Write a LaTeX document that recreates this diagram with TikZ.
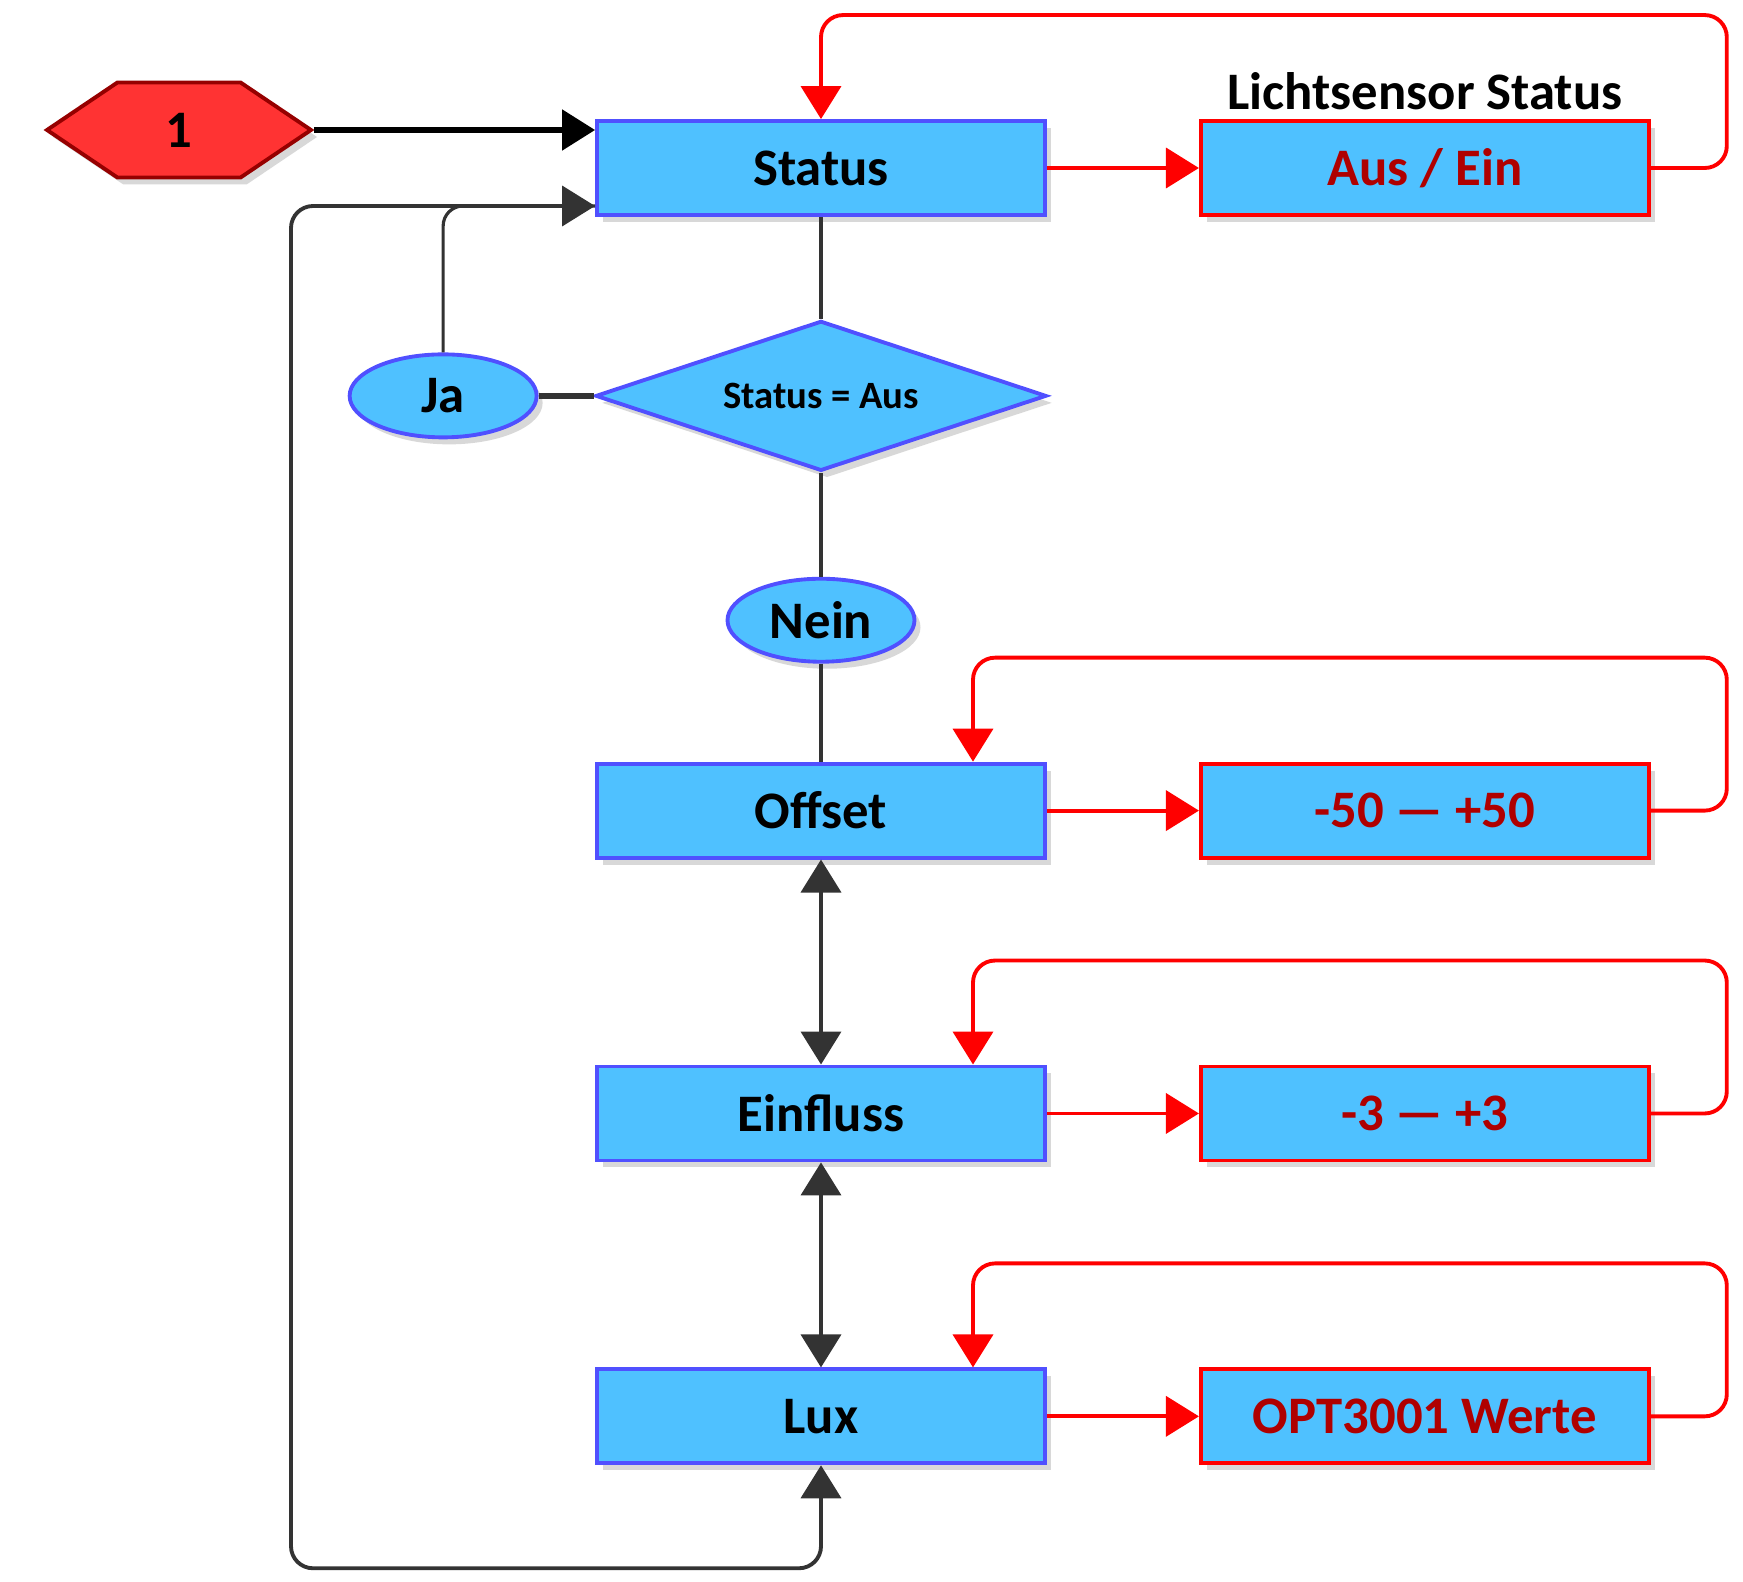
\documentclass[tikz,border=0pt]{standalone}
\usepackage{fontspec}
\setmainfont{Carlito}
\usepackage{tikz}
\usetikzlibrary{positioning}
\usetikzlibrary{calc,arrows.meta,shapes.geometric,shapes.symbols,shadows}
\definecolor{boxblue}{RGB}{79,193,255}
\definecolor{edgeblue}{RGB}{80,80,255}
\definecolor{wertred}{RGB}{175,0,0}
\definecolor{hexred}{RGB}{255,51,51}
\definecolor{hexedge}{RGB}{150,0,0}
\definecolor{linegray}{RGB}{51,51,51}

\tikzset{
  >={Triangle[length=0.33cm,width=0.4cm]},
  schatten/.style={drop shadow={shadow xshift=0.06cm, shadow yshift=-0.07cm, fill=black!30, opacity=0.5}},
  menu/.style={rectangle, draw=edgeblue, fill=boxblue, line width=1.1pt,
    minimum width=4.48cm, minimum height=0.94cm, schatten,
    font=\fontsize{15}{18}\selectfont\bfseries},
  wert/.style={menu, draw=red, text=wertred},
  frage/.style={diamond, aspect=3, draw=edgeblue, fill=boxblue, line width=1.1pt,
    inner sep=0pt, minimum width=4.51cm, minimum height=1.50cm, schatten,
    font=\fontsize{11}{13}\selectfont\bfseries},
  antwort/.style={ellipse, draw=edgeblue, fill=boxblue, line width=1.1pt,
    inner sep=0pt, minimum width=1.87cm, minimum height=0.83cm, schatten,
    font=\fontsize{15}{18}\selectfont\bfseries},
  anfang/.style={signal, signal to=east and west, signal pointer angle=68,
    draw=hexedge, fill=hexred, line width=1.1pt, inner sep=0pt,
    minimum width=2.64cm, minimum height=0.95cm, schatten,
    font=\fontsize{15}{18}\selectfont\bfseries},
  duenn/.style={draw=linegray, line width=0.9pt},
  grau/.style={draw=linegray, line width=1.1pt, rounded corners=0.22cm},
  rot/.style={draw=red, line width=1.1pt, rounded corners=0.22cm},
}

\begin{document}
\begin{tikzpicture}
      \useasboundingbox (0,0) rectangle (17.43,-15.82);
      \node[menu] (stat) at (8.21,-1.68) {Status};
      \node[wert, right=1.52cm of stat] (ausein) {Aus / Ein};
      \node[above=-0.03cm of ausein, font=\fontsize{15}{18}\selectfont\bfseries] (lstitel) {Lichtsensor Status};
      \node[frage, below=1.02cm of stat] (cond) {Status = Aus};
      \node[antwort, left=0.55cm of cond] (ja) {Ja};
      \node[antwort, below=1.04cm of cond] (nein) {Nein};
      \node[menu, below=0.98cm of nein] (offset) {Offset};
      \node[wert, right=1.52cm of offset] (offwert) {-50 — +50};
      \node[menu, below=2.05cm of offset] (einfluss) {Einfluss};
      \node[wert, right=1.52cm of einfluss] (einwert) {-3 — +3};
      \node[menu, below=2.05cm of einfluss] (lux) {Lux};
      \node[wert, right=1.52cm of lux] (luxwert) {OPT3001 Werte};
      \node[anfang] (start) at (1.79,-1.30) {1};

      % Hauptzweig
      \draw[->, draw=black, line width=1.5pt] (start.east) -- (start.east -| stat.west);
      \draw[duenn] (stat) -- (cond);
      \draw[duenn, line width=1.6pt] (ja) -- (cond);
      \draw[duenn] (cond) -- (nein);
      \draw[duenn] (nein) -- (offset);
      \draw[grau, <->] (offset) -- (einfluss);
      \draw[grau, <->] (einfluss) -- (lux);
      \draw[duenn, rounded corners=0.2cm] (ja) |- ([yshift=-0.38cm]stat.west);
      \draw[grau, <->] ([yshift=-0.38cm]stat.west) -| ($(lux.south)+(-5.30,-1.03)$) -| (lux.south);

      % Werte
      \draw[rot, ->] (stat) -- (ausein);
      \draw[rot, ->] (ausein.east) -- ++(0.76,0) |- ($(stat.north)+(0,1.04)$) -- (stat.north);
      \draw[rot, ->] (offset) -- (offwert);
      \draw[rot, ->] (offwert.east) -- ++(0.76,0) |- ($(offset.north)+(1.52,1.04)$) -- ([xshift=1.52cm]offset.north);
      \draw[rot, ->] (einfluss) -- (einwert);
      \draw[rot, ->] (einwert.east) -- ++(0.76,0) |- ($(einfluss.north)+(1.52,1.04)$) -- ([xshift=1.52cm]einfluss.north);
      \draw[rot, ->] (lux) -- (luxwert);
      \draw[rot, ->] (luxwert.east) -- ++(0.76,0) |- ($(lux.north)+(1.52,1.04)$) -- ([xshift=1.52cm]lux.north);
\end{tikzpicture}
\end{document}
